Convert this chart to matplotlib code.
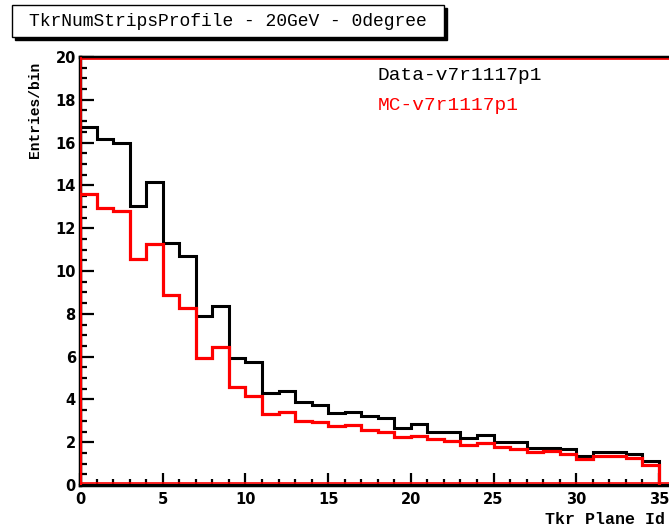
import numpy as np
import matplotlib
matplotlib.use('Agg')
import matplotlib.pyplot as plt
from matplotlib.patches import Rectangle

# Histogram contents, one value per Tkr plane (bins 0..34)
planes = np.arange(36)
data_v7 = [16.71, 16.17, 15.97, 13.04, 14.14, 11.29, 10.72, 7.91, 8.36, 5.92,
           5.76, 4.28, 4.41, 3.89, 3.74, 3.38, 3.43, 3.24, 3.15, 2.65,
           2.85, 2.49, 2.49, 2.18, 2.34, 2.00, 2.00, 1.75, 1.75, 1.67,
           1.36, 1.54, 1.54, 1.45, 1.14]
mc_v7 = [13.60, 12.93, 12.79, 10.56, 11.25, 8.88, 8.26, 5.92, 6.43, 4.56,
         4.17, 3.32, 3.41, 2.99, 2.93, 2.76, 2.80, 2.57, 2.46, 2.26,
         2.29, 2.13, 2.06, 1.87, 1.95, 1.79, 1.68, 1.56, 1.60, 1.45,
         1.21, 1.36, 1.36, 1.28, 0.93]
title = 'TkrNumStripsProfile - 20GeV - 0degree'
labels = ['Data-v7r1117p1', 'MC-v7r1117p1']

fig = plt.figure(figsize=(6.69, 5.30), dpi=100)
ax = fig.add_axes([80 / 669, 1 - 485 / 530, 595.5 / 669, 428 / 530])

edges = planes[:len(data_v7) + 1]
ax.stairs(data_v7, edges, baseline=0, color='black', lw=2.2, zorder=3)
ax.stairs(mc_v7, edges, baseline=0, color='red', lw=2.3, zorder=4)

ax.set_xlim(0, 36)
ax.set_ylim(0, 20)

# frame: thick black with red inner line (ROOT style)
for s in ax.spines.values():
    s.set_linewidth(2.5)
    s.set_color('black')
ax.axhline(19.9, color='red', lw=1.2, zorder=5)
ax.axhline(0.08, color='red', lw=1.2, zorder=5)
ax.axvline(0.09, color='red', lw=1.2, zorder=5)

ax.set_xticks(np.arange(0, 36, 5))
ax.set_xticks(np.arange(0, 37, 1), minor=True)
ax.set_yticks(np.arange(0, 21, 2))
ax.set_yticks(np.arange(0, 20.1, 0.5), minor=True)
ax.tick_params(axis='x', which='major', direction='in', length=9, width=1.6, pad=5)
ax.tick_params(axis='x', which='minor', direction='in', length=4, width=1.6)
ax.tick_params(axis='y', which='major', direction='in', length=10, width=1.6, pad=3)
ax.tick_params(axis='y', which='minor', direction='in', length=5, width=1.6)
for lab in ax.get_xticklabels() + ax.get_yticklabels():
    lab.set_fontfamily('DejaVu Sans')
    lab.set_fontweight('bold')
    lab.set_fontsize(10.5)

mono = 'Liberation Mono'
fig.text(665 / 669, 1 - 520 / 530, 'Tkr Plane Id', ha='right', va='center',
         family=mono, fontweight='bold', fontsize=12)
fig.text(35 / 669, 1 - 110 / 530, 'Entries/bin', ha='center', va='center',
         rotation=90, family=mono, fontweight='bold', fontsize=10.5)

ax.text(0.50, 0.957, labels[0], transform=ax.transAxes, family=mono,
        fontsize=14, color='black', va='center')
ax.text(0.50, 0.887, labels[1], transform=ax.transAxes, family=mono,
        fontsize=14, color='red', va='center')

# title box with shadow
fig.patches.append(Rectangle((15 / 669, 1 - 40 / 530), 432 / 669, 32 / 530,
                             transform=fig.transFigure, facecolor='black',
                             edgecolor='black', zorder=1))
fig.patches.append(Rectangle((12 / 669, 1 - 37 / 530), 432 / 669, 32 / 530,
                             transform=fig.transFigure, facecolor='white',
                             edgecolor='black', lw=1, zorder=2))
fig.text(228 / 669, 1 - 21 / 530, title, ha='center', va='center',
         family=mono, fontsize=13, zorder=3)

fig.savefig('out.png', dpi=100)
